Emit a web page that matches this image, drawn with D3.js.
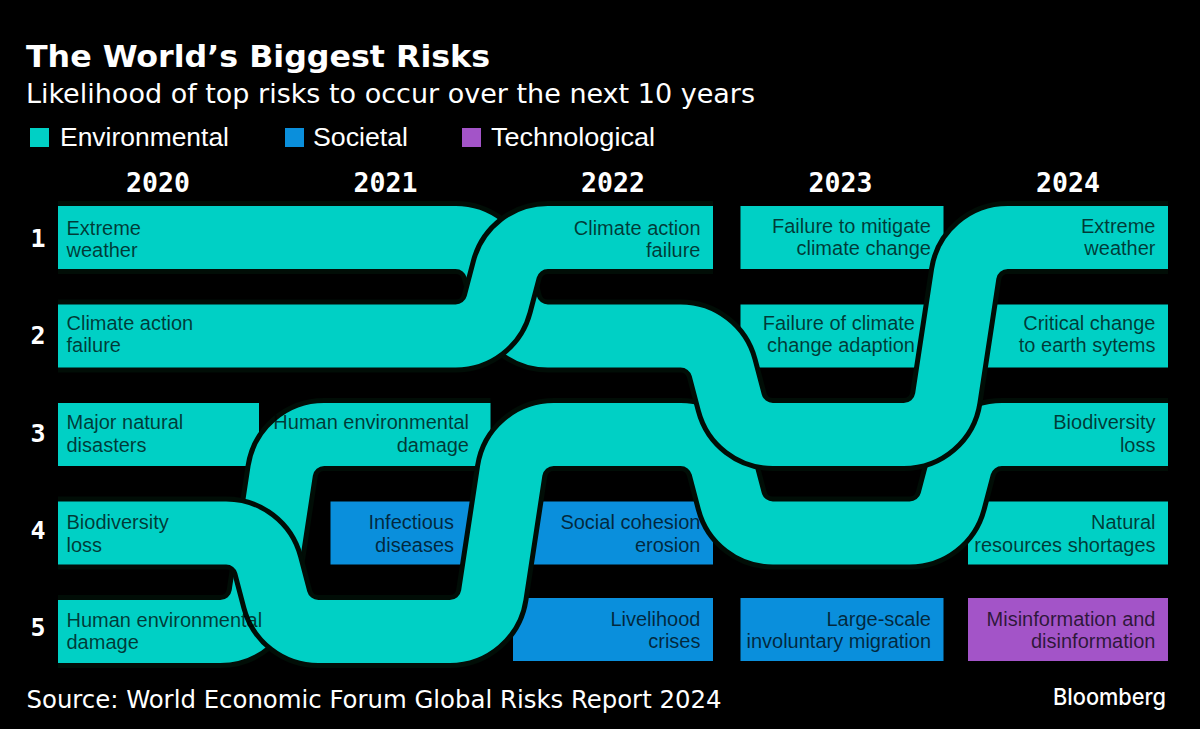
<!DOCTYPE html>
<html lang="en">
<head>
<meta charset="UTF-8">
<title>The World's Biggest Risks</title>
<script src="https://d3js.org/d3.v7.min.js"></script>
<style>
    html, body { margin: 0; background: #000; }
    svg { display: block; }
    text { font-family: 'Liberation Sans', sans-serif; }
    .mono { font-family: 'DejaVu Sans Mono', monospace; font-weight: 700; fill: #fff; }
    .cell { font-size: 20px; fill: #000; fill-opacity: 0.72; }
</style>
</head>
<body>
<svg width="1200" height="729"></svg>
<script>
var years = [2020, 2021, 2022, 2023, 2024];
var ranks = [1, 2, 3, 4, 5];
var categories = ["Environmental", "Societal", "Technological"];

// labels by rank, "" where the cell has no text
var labels2020 = ["Extreme\nweather", "Climate action\nfailure", "Major natural\ndisasters", "Biodiversity\nloss", "Human environmental\ndamage"];
var labels2021 = ["", "", "Human environmental\ndamage", "Infectious\ndiseases", ""];
var labels2022 = ["Climate action\nfailure", "", "", "Social cohesion\nerosion", "Livelihood\ncrises"];
var labels2023 = ["Failure to mitigate\nclimate change", "Failure of climate\nchange adaption", "", "", "Large-scale\ninvoluntary migration"];
var labels2024 = ["Extreme\nweather", "Critical change\nto earth sytems", "Biodiversity\nloss", "Natural\nresources shortages", "Misinformation and\ndisinformation"];

// category index by rank
var cats2020 = [0, 0, 0, 0, 0];
var cats2021 = [0, 0, 0, 1, 0];
var cats2022 = [0, 0, 0, 1, 1];
var cats2023 = [0, 0, 0, 0, 1];
var cats2024 = [0, 0, 0, 0, 2];

// rank per year for the risks that carry over, in drawing order
var humanRanks = [5, 3, null, null, null];
var biodiversityRanks = [4, 5, 3, 4, 3];
var extremeRanks = [1, 1, 2, 3, 1];
var climateRanks = [2, 2, 1, null, null];

var allLabels = [labels2020, labels2021, labels2022, labels2023, labels2024];
var allCats = [cats2020, cats2021, cats2022, cats2023, cats2024];
var ribbons = [humanRanks, biodiversityRanks, extremeRanks, climateRanks];

var color = d3.scaleOrdinal(categories, ["#00d0c5", "#0a8fdc", "#a354c8"]);

var x = d3.scaleBand().domain(years).range([58, 1168]).paddingInner(27.5 / 227.5);
var y = d3.scaleBand().domain(ranks).range([206, 663]).paddingInner(35.5 / 98.5);
// the rank numbers drift up a little against the rows
var rankLabelY = d3.scalePoint().domain(ranks).range([238, 627]);

// columns are not quite even in the original
var rightOverhang = d3.scaleOrdinal(years, [1, 5, 0, 3, 0]);
function left(year) { return x(year); }
function right(year) { return x(year) + x.bandwidth() + rightOverhang(year); }
function midY(rank) { return y(rank) + y.bandwidth() / 2; }

var bendRadius = 43, halo = 5;
// how far a bend leans off vertical, by number of ranks moved
function lean(from, to) { return Math.abs(to - from) > 1 ? 15 : 13; }

function ribbonPath(rs) {
    var p = d3.path();
    var last = 0;
    p.moveTo(left(years[0]), midY(rs[0]));
    for (var i = 1; i < rs.length && rs[i] != null; i++) {
        last = i;
        if (rs[i] === rs[i - 1]) continue;
        var gap = (right(years[i - 1]) + left(years[i])) / 2;
        var k = lean(rs[i - 1], rs[i]);
        p.arcTo(gap - k, midY(rs[i - 1]), gap + k, midY(rs[i]), bendRadius);
        p.arcTo(gap + k, midY(rs[i]), right(years[i]), midY(rs[i]), bendRadius);
    }
    p.lineTo(right(years[last]), midY(rs[last]));
    return p.toString();
}

var svg = d3.select("svg");

// title block
svg.append("text").text("The World\u2019s Biggest Risks")
    .attr("x", 26).attr("y", 67).attr("fill", "#fff")
    .attr("textLength", 464).attr("lengthAdjust", "spacingAndGlyphs")
    .style("font-family", "'DejaVu Sans Condensed', 'DejaVu Sans'").style("font-weight", 700).style("font-size", "31px");
svg.append("text").text("Likelihood of top risks to occur over the next 10 years")
    .attr("x", 26).attr("y", 103).attr("fill", "#fff")
    .attr("textLength", 729).attr("lengthAdjust", "spacingAndGlyphs")
    .style("font-family", "'DejaVu Sans Condensed', 'DejaVu Sans'").style("font-size", "26px");

// legend
var legendSwatchX = [30, 285, 462];
var legendTextX = [60, 313, 491];
var legendWidths = [169, 95, 164];
var legend = svg.selectAll(".legend").data(categories).enter().append("g").attr("class", "legend");
legend.append("rect")
    .attr("x", function(d, i) { return legendSwatchX[i]; })
    .attr("y", 128).attr("width", 19).attr("height", 19)
    .attr("fill", function(d) { return color(d); });
legend.append("text").text(function(d) { return d; })
    .attr("x", function(d, i) { return legendTextX[i]; })
    .attr("y", 146).attr("fill", "#fff")
    .attr("textLength", function(d, i) { return legendWidths[i]; })
    .attr("lengthAdjust", "spacingAndGlyphs")
    .style("font-size", "26px");

// axis labels
svg.selectAll(".year").data(years).enter().append("text")
    .attr("class", "mono year").text(function(d) { return d; })
    .attr("x", function(d) { return x(d) + x.bandwidth() / 2; })
    .attr("y", 192).attr("text-anchor", "middle").style("font-size", "26.5px");
svg.selectAll(".rank").data(ranks).enter().append("text")
    .attr("class", "mono rank").text(function(d) { return d; })
    .attr("x", 38).attr("y", function(d) { return rankLabelY(d) + 9; })
    .attr("text-anchor", "middle").style("font-size", "25px");

// flatten everything to one entry per cell
var cells = [];
years.forEach(function(year, c) {
    ranks.forEach(function(rank, r) {
        cells.push({
            year: year, rank: rank, col: c,
            label: allLabels[c][r],
            category: categories[allCats[c][r]],
            onRibbon: ribbons.some(function(rs) { return rs[c] === rank; })
        });
    });
});

// the lower right boxes sit a little higher than the ribbons
function rowLift(d) { return d.rank === 5 && d.year >= 2022 ? 2 : 0; }
// Infectious diseases box starts late, to clear the ribbon beside it
function leftInset(d) { return d.year === 2021 && d.rank === 4 ? 45 : 0; }

svg.selectAll(".box").data(cells.filter(function(d) { return !d.onRibbon; }))
    .enter().append("rect").attr("class", "box")
    .attr("x", function(d) { return left(d.year) + leftInset(d); })
    .attr("y", function(d) { return y(d.rank) - rowLift(d); })
    .attr("width", function(d) { return right(d.year) - left(d.year) - leftInset(d); })
    .attr("height", y.bandwidth())
    .attr("fill", function(d) { return color(d.category); });

// ribbons, each with a dark halo so it reads as passing over what is below
var ribbon = svg.selectAll(".ribbon").data(ribbons).enter().append("g").attr("class", "ribbon");
ribbon.append("path").attr("d", ribbonPath).attr("fill", "none")
    .attr("stroke", "#010d06").attr("stroke-width", y.bandwidth() + 2 * halo);
ribbon.append("path").attr("d", ribbonPath).attr("fill", "none")
    .attr("stroke", color(categories[0])).attr("stroke-width", y.bandwidth());

// text on top of everything, right aligned except the first column
function textRight(d) {
    if (d.year === 2021 && d.rank === 3) return 469;
    if (d.year === 2021 && d.rank === 4) return 454;
    if (d.year === 2023 && d.rank === 2) return 915;
    return right(d.year) - 12.5;
}
// first baseline against the row centre, rows are not evenly set
var textOffset = d3.scaleOrdinal(ranks, [-2.5, -6, -5.2, -3.8, -4.5]);
function textLift(d) {
    if (d.rank === 5 && d.year >= 2022) return 1;
    return d.rank === 1 && d.year >= 2023 ? 2 : 0;
}

var cellText = svg.selectAll(".cell").data(cells.filter(function(d) { return d.label; }))
    .enter().append("text").attr("class", "cell")
    .attr("text-anchor", function(d) { return d.year === 2020 ? "start" : "end"; });
cellText.selectAll("tspan")
    .data(function(d) {
        return d.label.split("\n").map(function(line, i) { return { line: line, i: i, cell: d }; });
    })
    .enter().append("tspan")
    .text(function(d) { return d.line; })
    .attr("x", function(d) { return d.cell.year === 2020 ? 66.5 : textRight(d.cell); })
    .attr("y", function(d) { return midY(d.cell.rank) + textOffset(d.cell.rank) + d.i * 22.3 - textLift(d.cell); });

// footer
svg.append("text").text("Source: World Economic Forum Global Risks Report 2024")
    .attr("x", 26.5).attr("y", 708).attr("fill", "#fff")
    .attr("textLength", 695).attr("lengthAdjust", "spacingAndGlyphs")
    .style("font-family", "'DejaVu Sans Condensed', 'DejaVu Sans'").style("font-size", "25px");
svg.append("text").text("Bloomberg")
    .attr("x", 1053).attr("y", 705).attr("fill", "#fff")
    .attr("textLength", 113).attr("lengthAdjust", "spacingAndGlyphs")
    .style("font-family", "'Inter'").style("font-weight", 500).style("font-size", "23px");
</script>
</body>
</html>
